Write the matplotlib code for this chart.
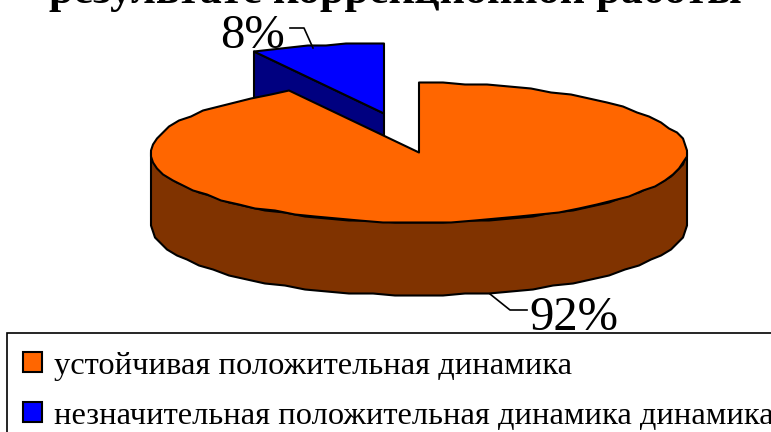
import numpy as np
import matplotlib
matplotlib.use("Agg")
import matplotlib.pyplot as plt
from matplotlib.patches import Polygon, Rectangle

plt.rcParams['font.family'] = ['Liberation Serif', 'DejaVu Serif']

title_text = "результате коррекционной работы"
categories = ["устойчивая положительная динамика",
              "незначительная положительная динамика динамика"]
shares = [92, 8]
share_labels = ["92%", "8%"]
top_colors = ["#FF6600", "#0000FF"]
side_colors = ["#803300", "#000080"]

fig = plt.figure(figsize=(7.71, 4.32), dpi=100)
ax = fig.add_axes([0, 0, 1, 1])
ax.set_xlim(0, 771)
ax.set_ylim(432, 0)
ax.axis("off")

RX, RY, DEPTH = 268, 70, 73
CX, CY = 419, 152.5
EXPL = (-35, -39)
EDGE = dict(edgecolor="black", linewidth=1.5, joinstyle="round")
GRID = 2.0


def pt(theta, cx, cy, dy=0):
    """Rim of the pie; lightly snapped like the uneven outline of the source."""
    x = np.round(RX * np.sin(theta) / GRID) * GRID
    y = np.round(-RY * np.cos(theta) / GRID) * GRID
    return cx + x, cy + y + dy


sweep_main = 2 * np.pi * shares[0] / sum(shares)
sweep_small = 2 * np.pi * shares[1] / sum(shares)

# exploded small slice
sx, sy = CX + EXPL[0], CY + EXPL[1]
th_small = np.linspace(2 * np.pi - sweep_small, 2 * np.pi, 8)
lx, ly = pt(th_small[0], sx, sy)
ax.add_patch(Polygon([(sx, sy), (lx, ly), (lx, ly + DEPTH), (sx, sy + DEPTH)],
                     facecolor=side_colors[1], zorder=1, **EDGE))
ax.add_patch(Polygon([(sx, sy)] + list(zip(*pt(th_small, sx, sy))),
                     facecolor=top_colors[1], zorder=2, **EDGE))

# large slice: front wall then top face
th_wall = np.linspace(np.pi / 2, 3 * np.pi / 2, 37)
wx, wy = pt(th_wall, CX, CY)
wall = list(zip(wx, wy)) + list(zip(wx[::-1], wy[::-1] + DEPTH))
ax.add_patch(Polygon(wall, facecolor=side_colors[0], zorder=3, **EDGE))
th_main = np.linspace(0, sweep_main, 68)
ax.add_patch(Polygon([(CX, CY)] + list(zip(*pt(th_main, CX, CY))),
                     facecolor=top_colors[0], zorder=4, **EDGE))

# title, cut by the top edge of the picture as in the source
ax.text(395, 2.5, title_text, ha="center", va="baseline", fontsize=31.9,
        fontweight="bold", color="black", zorder=6)

# data labels with leader lines
ax.plot([490, 510, 527], [294, 310, 310], color="black", lw=1.2, zorder=5)
ax.text(574, 330, share_labels[0], ha="center", va="baseline", fontsize=35, zorder=6)
ax.plot([290, 304, 313], [28, 28, 48], color="black", lw=1.2, zorder=5)
ax.text(253, 48, share_labels[1], ha="center", va="baseline", fontsize=35, zorder=6)

# legend
ax.add_patch(Rectangle((7, 333), 800, 120, facecolor="white",
                       edgecolor="black", linewidth=1.2, zorder=5))
for name, col, y, base in zip(categories, top_colors, [362, 412], [374, 424]):
    ax.add_patch(Rectangle((23, y - 10), 19, 20, facecolor=col, edgecolor="black",
                           linewidth=1.5, zorder=6))
    ax.text(54, base, name, ha="left", va="baseline", fontsize=23.4, zorder=6)

fig.savefig("out.png", dpi=100)
